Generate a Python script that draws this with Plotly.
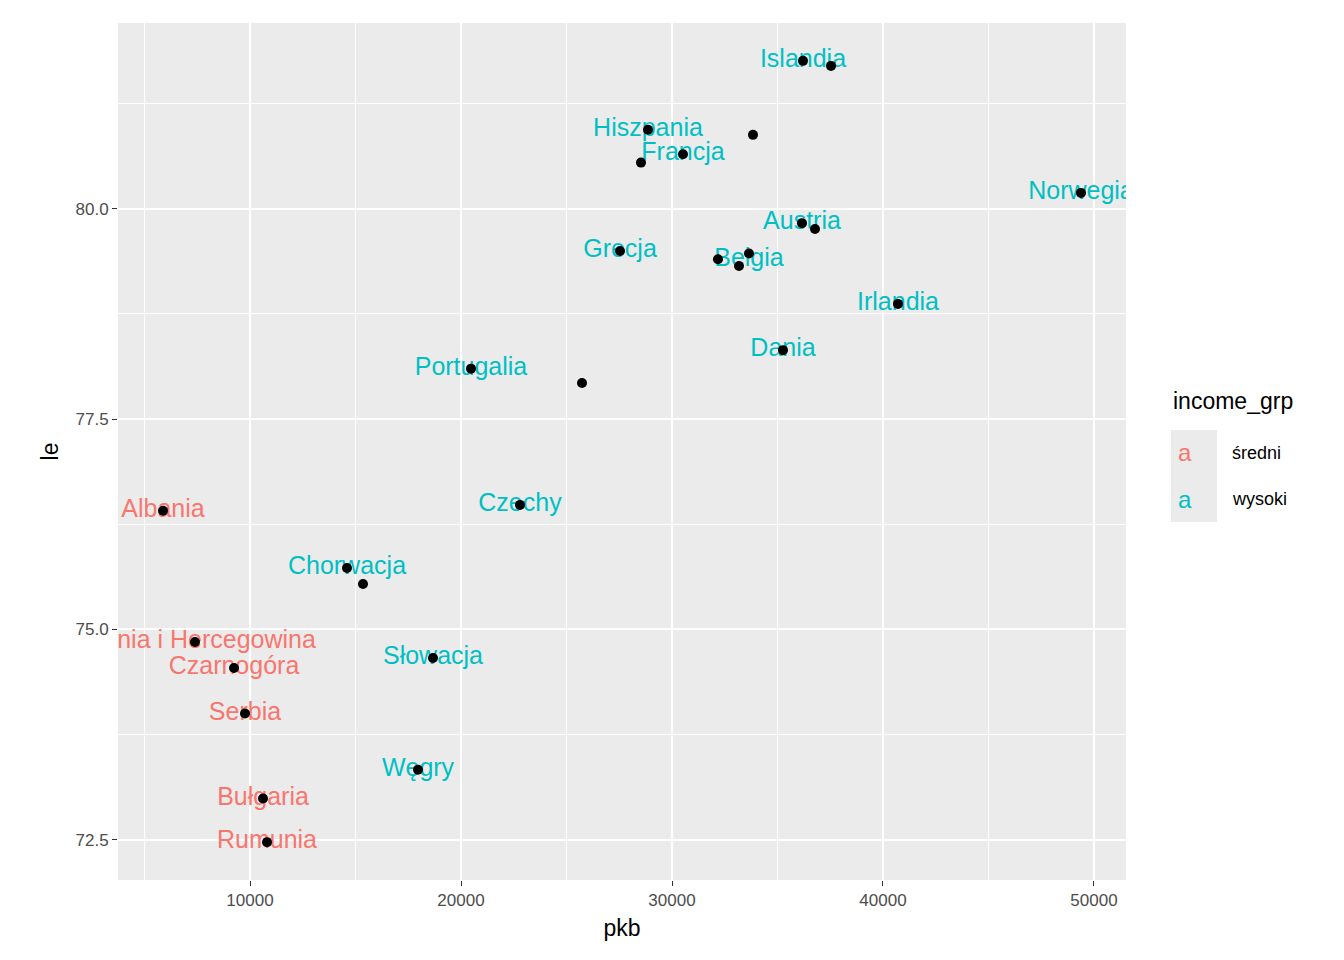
import plotly.graph_objects as go

# all countries (points)
pkb = [36209, 37536, 28863, 33839, 30521, 28531, 49384, 36161, 36777, 27536,
       33649, 32180, 33175, 40711, 35261, 20474, 25735, 5877, 22796, 14597,
       15355, 7393, 9242, 18673, 9763, 17962, 10616, 10806]
le = [81.76, 81.70, 80.94, 80.88, 80.65, 80.55, 80.19, 79.83, 79.76, 79.50,
      79.47, 79.40, 79.32, 78.87, 78.32, 78.10, 77.93, 76.41, 76.48, 75.73,
      75.54, 74.85, 74.54, 74.66, 74.00, 73.33, 72.99, 72.47]

# labelled countries
lab_names = ["Islandia", "Hiszpania", "Francja", "Norwegia", "Austria", "Grecja",
             "Belgia", "Irlandia", "Dania", "Portugalia", "Albania", "Czechy",
             "Chorwacja", "Bośnia i Hercegowina", "Czarnogóra", "Słowacja",
             "Serbia", "Węgry", "Bułgaria", "Rumunia"]
lab_pkb = [36209, 28863, 30521, 49384, 36161, 27536, 33649, 40711, 35261, 20474,
           5877, 22796, 14597, 7393, 9242, 18673, 9763, 17962, 10616, 10806]
lab_le = [81.76, 80.94, 80.65, 80.19, 79.83, 79.50, 79.40, 78.87, 78.32, 78.10,
          76.41, 76.48, 75.73, 74.85, 74.54, 74.66, 74.00, 73.33, 72.99, 72.47]
lab_grp = ["wysoki", "wysoki", "wysoki", "wysoki", "wysoki", "wysoki", "wysoki",
           "wysoki", "wysoki", "wysoki", "średni", "wysoki", "wysoki", "średni",
           "średni", "wysoki", "średni", "wysoki", "średni", "średni"]

colors = {"średni": "#F8766D", "wysoki": "#00BFC4"}

fig = go.Figure()
for g in ["średni", "wysoki"]:
    idx = [i for i, v in enumerate(lab_grp) if v == g]
    fig.add_trace(go.Scatter(
        x=[lab_pkb[i] for i in idx], y=[lab_le[i] for i in idx],
        text=[lab_names[i] for i in idx], mode="text",
        textposition="middle center",
        textfont=dict(color=colors[g], size=25, family="Liberation Sans"),
        showlegend=False))
fig.add_trace(go.Scatter(x=pkb, y=le, mode="markers",
                         marker=dict(color="black", size=10), showlegend=False))

# legend drawn as annotations (pixel positions, converted below)
fig.add_annotation(x=1163, y=393, xref="paper", yref="paper", text="income_grp",
                   showarrow=False, xanchor="left", font=dict(size=23, color="black"))
for g, yy in [("średni", 445), ("wysoki", 491)]:
    fig.add_shape(type="rect", xref="paper", yref="paper",
                  x0=1163, x1=1209, y0=yy - 23, y1=yy + 23,
                  fillcolor="#EBEBEB", line_width=0)
    fig.add_annotation(x=1186, y=yy, xref="paper", yref="paper", text="a",
                       showarrow=False, font=dict(size=24, color=colors[g]))
    fig.add_annotation(x=1222, y=yy, xref="paper", yref="paper", text=g,
                       showarrow=False, xanchor="left", font=dict(size=18, color="black"))

L, R, T, B = 110, 1118, 15, 872
for a in fig.layout.annotations:
    a.x = (a.x - L) / (R - L)
    a.y = 1 - (a.y - T) / (B - T)
for s in fig.layout.shapes:
    s.x0 = (s.x0 - L) / (R - L); s.x1 = (s.x1 - L) / (R - L)
    y0, y1 = s.y0, s.y1
    s.y0 = 1 - (y1 - T) / (B - T); s.y1 = 1 - (y0 - T) / (B - T)

axis_common = dict(showgrid=True, gridcolor="white", gridwidth=2, zeroline=False,
                   ticks="outside", ticklen=5, tickcolor="#333333",
                   tickfont=dict(size=17, color="#4D4D4D"),
                   minor=dict(showgrid=True, gridcolor="white", gridwidth=1),
                   showline=False, automargin=False)
fig.update_layout(
    width=1344, height=960,
    margin=dict(l=L, r=1344 - R, t=T, b=960 - B),
    plot_bgcolor="#EBEBEB", paper_bgcolor="white",
    font=dict(family="Liberation Sans"),
    xaxis=dict(range=[3744, 51517], tickvals=[10000, 20000, 30000, 40000, 50000],
               tickformat="d",
               title=dict(text="pkb", font=dict(size=23, color="black"), standoff=10),
               **axis_common),
    yaxis=dict(range=[72.02, 82.21], tickvals=[72.5, 75.0, 77.5, 80.0],
               tickformat=".1f",
               title=dict(text="le", font=dict(size=23, color="black"), standoff=10),
               **axis_common),
)
fig.update_xaxes(minor_tickvals=[5000, 15000, 25000, 35000, 45000], minor_ticks="")
fig.update_yaxes(minor_tickvals=[73.75, 76.25, 78.75, 81.25], minor_ticks="")

fig.write_html("out.html")
